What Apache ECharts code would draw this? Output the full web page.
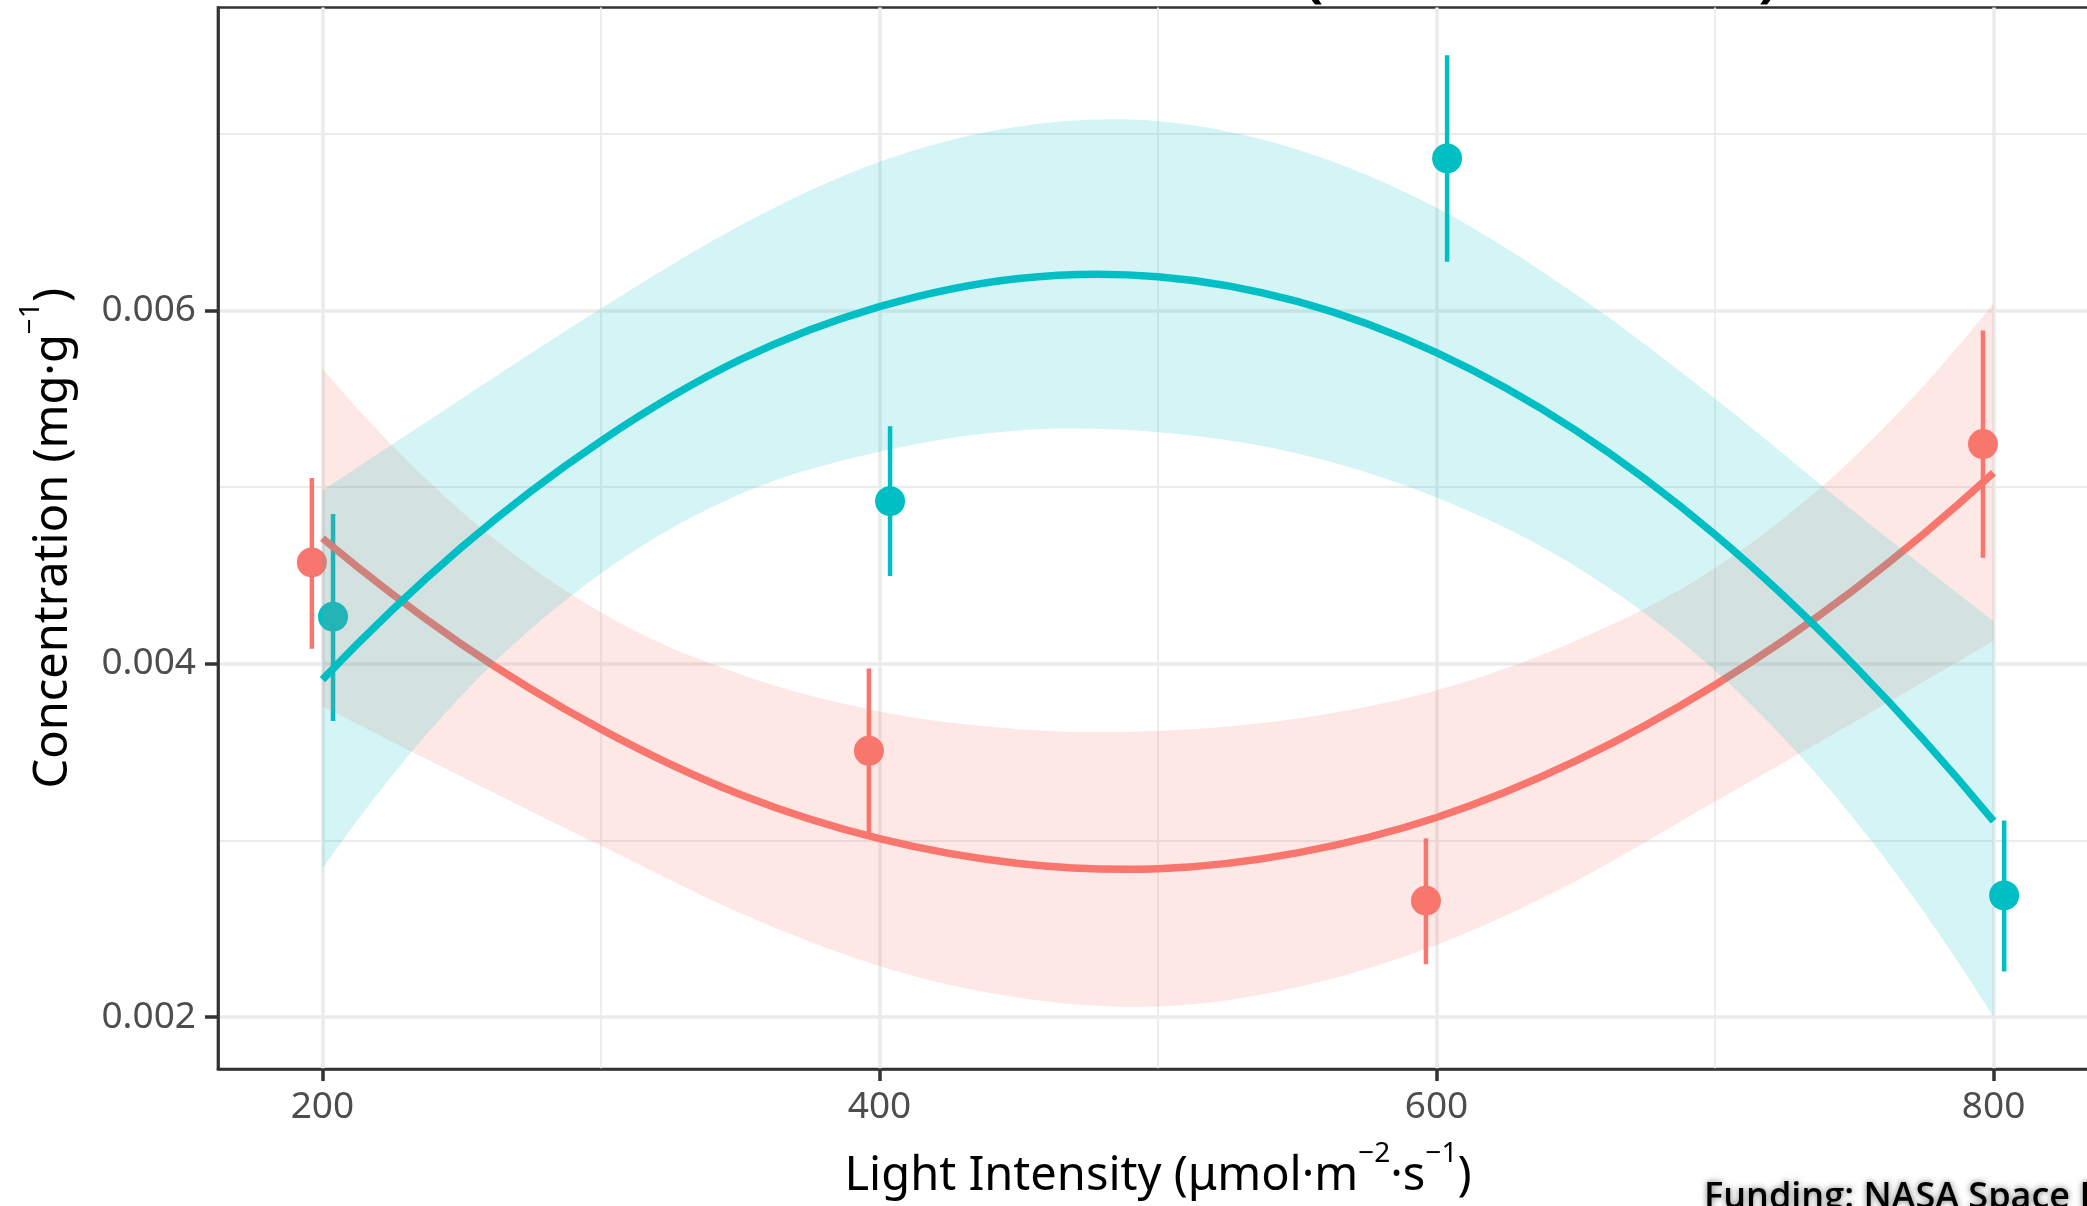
<!DOCTYPE html>
<html>
<head>
<meta charset="utf-8">
<script src="https://cdn.jsdelivr.net/npm/echarts@6/dist/echarts.min.js"></script>
<style>
  html, body { margin: 0; padding: 0; background: #ffffff; }
  #chart { width: 2087px; height: 1206px; }
</style>
</head>
<body>
<div id="chart"></div>
<script>
// Group means with error bar limits (dodged around each light level)
const redX     = [196.2, 396.2, 596.2, 796.2];
const redMean  = [0.004573, 0.003507, 0.002659, 0.005243];
const redLow   = [0.004085, 0.003043, 0.002300, 0.004600];
const redHigh  = [0.005051, 0.003973, 0.003012, 0.005885];

const tealX    = [203.8, 403.8, 603.8, 803.8];
const tealMean = [0.004266, 0.004920, 0.006859, 0.002689];
const tealLow  = [0.003676, 0.004496, 0.006275, 0.002259];
const tealHigh = [0.004847, 0.005343, 0.007443, 0.003113];

// Quadratic trend lines and their confidence bands
const fitX      = [200, 250, 300, 350, 400, 450, 500, 550, 600, 650, 700, 750, 800];
const redFit    = [0.00471, 0.00411, 0.00363, 0.00326, 0.00301, 0.00287, 0.00284, 0.00293, 0.00313, 0.00345, 0.00388, 0.00442, 0.00508];
const redUpper  = [0.00567, 0.00486, 0.00429, 0.00394, 0.00373, 0.00363, 0.00362, 0.00369, 0.00385, 0.00413, 0.00454, 0.00517, 0.00604];
const redLower  = [0.00376, 0.00336, 0.00297, 0.00259, 0.00229, 0.00211, 0.00206, 0.00217, 0.00241, 0.00277, 0.00322, 0.00367, 0.00413];
const tealFit   = [0.00391, 0.00466, 0.00526, 0.00572, 0.00602, 0.00618, 0.00619, 0.00605, 0.00576, 0.00532, 0.00473, 0.00399, 0.00311];
const tealUpper = [0.00498, 0.00550, 0.00601, 0.00648, 0.00684, 0.00704, 0.00707, 0.00691, 0.00658, 0.00609, 0.00550, 0.00486, 0.00424];
const tealLower = [0.00284, 0.00382, 0.00451, 0.00496, 0.00520, 0.00532, 0.00531, 0.00519, 0.00494, 0.00455, 0.00396, 0.00312, 0.00200];

// Axis ticks
const xMajorTicks = [200, 400, 600, 800];
const xMinorTicks = [300, 500, 700];
const yMajorTicks = [0.002, 0.004, 0.006];
const yMinorTicks = [0.003, 0.005, 0.007];

const RED = '#F8766D';
const TEAL = '#00BFC4';
const FONT = 'Noto Sans';
const X_RANGE = [162.5, 837.5];
const Y_RANGE = [0.001707, 0.007713];

const chart = echarts.init(document.getElementById('chart'), null, { renderer: 'canvas' });

// Cubic Bezier segments through pixel points (Catmull-Rom tangents,
// with quadratic extension at both ends so the curve keeps its bend).
function splineSegments(pts) {
  const n = pts.length;
  const at = (i) => {
    if (i < 0) return [3 * pts[0][0] - 3 * pts[1][0] + pts[2][0], 3 * pts[0][1] - 3 * pts[1][1] + pts[2][1]];
    if (i >= n) return [3 * pts[n - 1][0] - 3 * pts[n - 2][0] + pts[n - 3][0], 3 * pts[n - 1][1] - 3 * pts[n - 2][1] + pts[n - 3][1]];
    return pts[i];
  };
  let d = '';
  for (let i = 0; i < n - 1; i++) {
    const p0 = at(i - 1), p1 = pts[i], p2 = pts[i + 1], p3 = at(i + 2);
    const c1x = p1[0] + (p2[0] - p0[0]) / 6, c1y = p1[1] + (p2[1] - p0[1]) / 6;
    const c2x = p2[0] - (p3[0] - p1[0]) / 6, c2y = p2[1] - (p3[1] - p1[1]) / 6;
    d += ' C ' + c1x + ' ' + c1y + ' ' + c2x + ' ' + c2y + ' ' + p2[0] + ' ' + p2[1];
  }
  return d;
}

function errorBars(xs, lo, hi, color, z) {
  return {
    type: 'custom',
    z: z,
    silent: true,
    clip: false,
    data: xs.map((x, i) => [x, lo[i], hi[i]]),
    encode: { x: 0, y: [1, 2] },
    renderItem: function (params, api) {
      const a = api.coord([api.value(0), api.value(1)]);
      const b = api.coord([api.value(0), api.value(2)]);
      return {
        type: 'line',
        shape: { x1: a[0], y1: a[1], x2: b[0], y2: b[1] },
        style: { stroke: color, lineWidth: 4.5 }
      };
    }
  };
}

function points(xs, ys, color, z) {
  return {
    type: 'scatter',
    z: z,
    silent: true,
    symbol: 'circle',
    symbolSize: 30,
    itemStyle: { color: color, opacity: 1 },
    data: xs.map((x, i) => [x, ys[i]])
  };
}

// Confidence band: upper edge left to right, lower edge back, closed
function band(lower, upper, fill, z) {
  return {
    type: 'custom',
    z: z,
    silent: true,
    clip: true,
    data: fitX.map((x, i) => [x, lower[i], upper[i]]),
    encode: { x: 0, y: [1, 2] },
    renderItem: function (params, api) {
      if (params.dataIndex !== 0) return null;
      const up = fitX.map((x, i) => api.coord([x, upper[i]]));
      const lo = fitX.map((x, i) => api.coord([x, lower[i]])).reverse();
      const d = 'M ' + up[0][0] + ' ' + up[0][1] + splineSegments(up) +
        ' L ' + lo[0][0] + ' ' + lo[0][1] + splineSegments(lo) + ' Z';
      return { type: 'path', shape: { pathData: d }, style: { fill: fill, stroke: null } };
    }
  };
}

function trend(ys, color, z) {
  return {
    type: 'custom',
    z: z,
    silent: true,
    clip: true,
    data: fitX.map((x, i) => [x, ys[i]]),
    encode: { x: 0, y: 1 },
    renderItem: function (params, api) {
      if (params.dataIndex !== 0) return null;
      const pts = fitX.map((x, i) => api.coord([x, ys[i]]));
      const d = 'M ' + pts[0][0] + ' ' + pts[0][1] + splineSegments(pts);
      return { type: 'path', shape: { pathData: d }, style: { fill: null, stroke: color, lineWidth: 7.5, lineCap: 'butt' } };
    }
  };
}

function titleStyle() {
  return {
    rich: {
      t: { fontFamily: FONT, fontSize: 47, color: '#000000', lineHeight: 74 },
      s: { fontFamily: FONT, fontSize: 28, color: '#000000', lineHeight: 28, verticalAlign: 'top' }
    }
  };
}

const option = {
  backgroundColor: '#ffffff',
  animation: false,
  grid: {
    left: 218, top: 7.5, width: 1880, height: 1061.5,
    show: true, borderColor: '#333333', borderWidth: 2.7,
    backgroundColor: 'transparent',
    containLabel: false, outerBoundsMode: 'none'
  },
  xAxis: [
    {
      type: 'value', min: X_RANGE[0], max: X_RANGE[1],
      axisLine: { show: true, onZero: false, lineStyle: { color: '#333333', width: 2.7 } },
      axisTick: { show: true, length: 12, customValues: xMajorTicks, lineStyle: { color: '#333333', width: 3.5 } },
      axisLabel: { customValues: xMajorTicks, fontFamily: FONT, fontSize: 37, color: '#4D4D4D', margin: 20 },
      splitLine: { show: true, lineStyle: { color: '#EBEBEB', width: 3.5 } },
      name: '{t|Light Intensity (μmol·m}{s|−2}{t|·s}{s|−1}{t|)}',
      nameLocation: 'middle', nameGap: 71,
      nameTextStyle: titleStyle()
    },
    {
      type: 'value', min: X_RANGE[0], max: X_RANGE[1], position: 'bottom',
      axisLine: { show: false }, axisLabel: { show: false },
      axisTick: { show: false, customValues: xMinorTicks },
      splitLine: { show: true, lineStyle: { color: '#EBEBEB', width: 1.8 } }
    }
  ],
  yAxis: [
    {
      type: 'value', min: Y_RANGE[0], max: Y_RANGE[1],
      axisLine: { show: true, onZero: false, lineStyle: { color: '#333333', width: 2.7 } },
      axisTick: { show: true, length: 13, customValues: yMajorTicks, lineStyle: { color: '#333333', width: 3.5 } },
      axisLabel: { customValues: yMajorTicks, fontFamily: FONT, fontSize: 37, color: '#4D4D4D', margin: 22,
        formatter: v => v.toFixed(3) },
      splitLine: { show: true, lineStyle: { color: '#EBEBEB', width: 3.5 } },
      name: '{t|Concentration (mg·g}{s|−1}{t|)}',
      nameLocation: 'middle', nameGap: 127, nameRotate: 90,
      nameTextStyle: titleStyle()
    },
    {
      type: 'value', min: Y_RANGE[0], max: Y_RANGE[1], position: 'left',
      axisLine: { show: false }, axisLabel: { show: false },
      axisTick: { show: false, customValues: yMinorTicks },
      splitLine: { show: true, lineStyle: { color: '#EBEBEB', width: 1.8 } }
    }
  ],
  graphic: [
    {
      type: 'text', x: 1314, y: 8, silent: true,
      style: { text: '(', font: 'bold 56px "Noto Sans"', fill: '#000000', align: 'center', verticalAlign: 'bottom' }
    },
    {
      type: 'text', x: 1768, y: 8, silent: true,
      style: { text: ')', font: 'bold 56px "Noto Sans"', fill: '#000000', align: 'center', verticalAlign: 'bottom' }
    },
    {
      type: 'text', x: 1704, y: 1180, silent: true,
      style: {
        text: 'Funding: NASA Space B', font: '600 36px "Open Sans"', fill: '#000000',
        align: 'left', verticalAlign: 'top',
        textShadowColor: 'rgba(0,0,0,0.55)', textShadowBlur: 6
      }
    }
  ],
  series: [
    errorBars(redX, redLow, redHigh, RED, 2),
    errorBars(tealX, tealLow, tealHigh, TEAL, 2),
    points(redX, redMean, RED, 3),
    points(tealX, tealMean, TEAL, 3),
    band(redLower, redUpper, 'rgba(248,118,109,0.17)', 4),
    trend(redFit, RED, 5),
    band(tealLower, tealUpper, 'rgba(0,191,196,0.17)', 6),
    trend(tealFit, TEAL, 7)
  ]
};

chart.setOption(option);
</script>
</body>
</html>
